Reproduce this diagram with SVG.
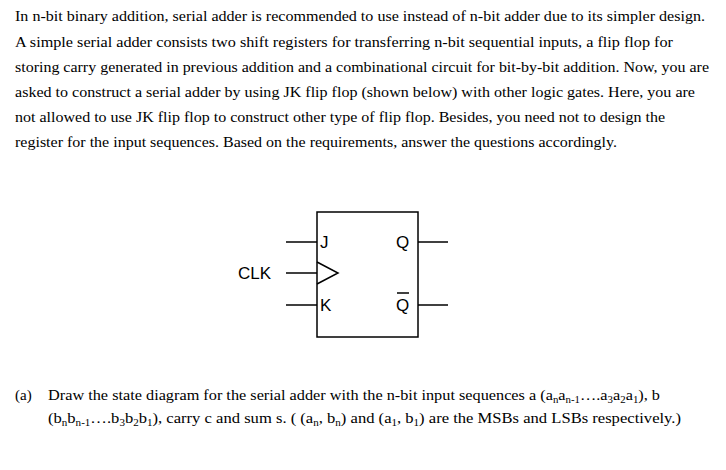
<svg xmlns="http://www.w3.org/2000/svg" width="726" height="470" viewBox="0 0 726 470">
<style>
.t{font-family:"Liberation Serif",serif;font-size:15px;fill:#000}
.s{font-size:10px}
.f{font-family:"Liberation Sans",sans-serif;font-size:17px;fill:#000}
.l{stroke:#000;stroke-width:1.5;fill:none}
</style>
<rect width="726" height="470" fill="#fff"/>
<g id="text">
<text class="t" x="15" y="21" textLength="690" lengthAdjust="spacingAndGlyphs">In n-bit binary addition, serial adder is recommended to use instead of n-bit adder due to its simpler design.</text>
<text class="t" x="15" y="47" textLength="658" lengthAdjust="spacingAndGlyphs">A simple serial adder consists two shift registers for transferring n-bit sequential inputs, a flip flop for</text>
<text class="t" x="15" y="72" textLength="694" lengthAdjust="spacingAndGlyphs">storing carry generated in previous addition and a combinational circuit for bit-by-bit addition. Now, you are</text>
<text class="t" x="15" y="97" textLength="680" lengthAdjust="spacingAndGlyphs">asked to construct a serial adder by using JK flip flop (shown below) with other logic gates. Here, you are</text>
<text class="t" x="15" y="122" textLength="650" lengthAdjust="spacingAndGlyphs">not allowed to use JK flip flop to construct other type of flip flop. Besides, you need not to design the</text>
<text class="t" x="15" y="147" textLength="602" lengthAdjust="spacingAndGlyphs">register for the input sequences. Based on the requirements, answer the questions accordingly.</text>
<text class="t" x="15" y="400">(a)</text>
<text class="t" x="48" y="400" textLength="612" lengthAdjust="spacingAndGlyphs">Draw the state diagram for the serial adder with the n-bit input sequences a (a<tspan class="s" dy="3">n</tspan><tspan dy="-3">a</tspan><tspan class="s" dy="3">n-1</tspan><tspan dy="-3">….a</tspan><tspan class="s" dy="3">3</tspan><tspan dy="-3">a</tspan><tspan class="s" dy="3">2</tspan><tspan dy="-3">a</tspan><tspan class="s" dy="3">1</tspan><tspan dy="-3">), b</tspan></text>
<text class="t" x="48" y="423" textLength="633" lengthAdjust="spacingAndGlyphs">(b<tspan class="s" dy="3">n</tspan><tspan dy="-3">b</tspan><tspan class="s" dy="3">n-1</tspan><tspan dy="-3">….b</tspan><tspan class="s" dy="3">3</tspan><tspan dy="-3">b</tspan><tspan class="s" dy="3">2</tspan><tspan dy="-3">b</tspan><tspan class="s" dy="3">1</tspan><tspan dy="-3">), carry c and sum s. ( (a</tspan><tspan class="s" dy="3">n</tspan><tspan dy="-3">, b</tspan><tspan class="s" dy="3">n</tspan><tspan dy="-3">) and (a</tspan><tspan class="s" dy="3">1</tspan><tspan dy="-3">, b</tspan><tspan class="s" dy="3">1</tspan><tspan dy="-3">) are the MSBs and LSBs respectively.)</tspan></text>
</g>
<g id="jkff">
<rect class="l" x="317" y="212" width="101" height="125"/>
<polyline class="l" points="317,262 338,273 317,284"/>
<text class="f" x="320" y="248">J</text>
<text class="f" x="320" y="311">K</text>
<text class="f" x="396" y="248">Q</text>
<text class="f" x="396" y="311">Q</text>
<line class="l" x1="397" y1="293" x2="409" y2="293" stroke-width="1.2"/>
<text class="f" x="238" y="279">CLK</text>
</g>
<g id="connectors">
<line class="l" x1="286" y1="242" x2="317" y2="242"/>
<line class="l" x1="286" y1="273" x2="317" y2="273"/>
<line class="l" x1="286" y1="305" x2="317" y2="305"/>
<line class="l" x1="418" y1="242" x2="448" y2="242"/>
<line class="l" x1="418" y1="305" x2="448" y2="305"/>
</g>
</svg>
